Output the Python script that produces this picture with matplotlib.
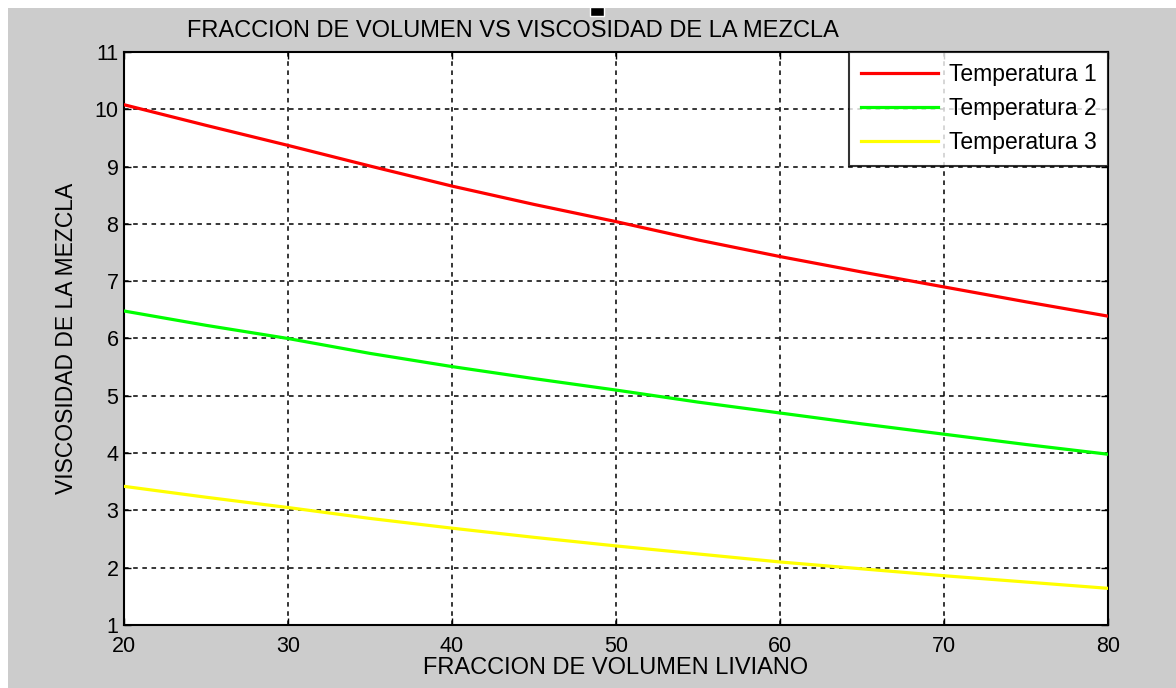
import numpy as np
import matplotlib
matplotlib.use("Agg")
import matplotlib.pyplot as plt
from matplotlib.patches import Rectangle
from matplotlib import font_manager

# Fraccion de volumen liviano
fraccion = [20, 25, 30, 35, 40, 45, 50, 55, 60, 65, 70, 75, 80]

# Viscosidad de la mezcla para cada temperatura
visc_t1 = [10.08, 9.72, 9.37, 9.01, 8.66, 8.34, 8.04, 7.72, 7.43, 7.16, 6.90, 6.64, 6.39]
visc_t2 = [6.48, 6.23, 6.00, 5.74, 5.51, 5.30, 5.10, 4.89, 4.70, 4.51, 4.33, 4.15, 3.98]
visc_t3 = [3.42, 3.23, 3.05, 2.86, 2.69, 2.53, 2.38, 2.24, 2.10, 1.98, 1.86, 1.75, 1.64]

etiquetas = ["Temperatura 1", "Temperatura 2", "Temperatura 3"]
colores = ["#ff0000", "#00ff00", "#ffff00"]

x_ticks = [20, 30, 40, 50, 60, 70, 80]
y_ticks = list(range(1, 12))

names = {f.name for f in font_manager.fontManager.ttflist}
narrow = "Liberation Sans Narrow" if "Liberation Sans Narrow" in names else "Liberation Sans"
regular = "Liberation Sans"

fig = plt.figure(figsize=(11.76, 6.88), dpi=100, facecolor="#cccccc")
ax = fig.add_axes([124/1176, 1 - 625/688, 984/1176, 573/688])

# white strips at top and left edge, little black marker on top
fig.patches.append(Rectangle((0, 1 - 8/688), 1, 8/688, transform=fig.transFigure,
                             facecolor="white", edgecolor="none", zorder=0))
fig.patches.append(Rectangle((0, 0), 8/1176, 1, transform=fig.transFigure,
                             facecolor="white", edgecolor="none", zorder=0))
fig.patches.append(Rectangle((590/1176, 1 - 16/688), 14/1176, 9/688, transform=fig.transFigure,
                             facecolor="black", edgecolor="white", linewidth=1, zorder=5))

for y, c, lab in zip([visc_t1, visc_t2, visc_t3], colores, etiquetas):
    ax.plot(fraccion, y, color=c, linewidth=2.3, label=lab, zorder=3)

ax.set_xlim(20, 80)
ax.set_ylim(1, 11)
ax.set_xticks(x_ticks)
ax.set_yticks(y_ticks)
ax.grid(True, color="black", linestyle=(0, (3, 3)), linewidth=1.1)
ax.tick_params(direction="in", length=5, width=1, top=True, right=True,
               labelsize=15.5, colors="black", pad=4)
ax.tick_params(axis="x", pad=8)
for lbl in ax.get_xticklabels() + ax.get_yticklabels():
    lbl.set_fontfamily(narrow)
for s in ax.spines.values():
    s.set_linewidth(1.5)
ax.set_facecolor("white")

ax.set_title("FRACCION DE VOLUMEN VS VISCOSIDAD DE LA MEZCLA", fontsize=17,
             family=narrow, pad=11, x=0.395)
ax.set_xlabel("FRACCION DE VOLUMEN LIVIANO", fontsize=17, family=narrow, labelpad=0)
ax.set_ylabel("VISCOSIDAD DE LA MEZCLA", fontsize=16.5, family=regular, labelpad=12)

leg = ax.legend(loc="upper right", prop={"family": regular, "size": 16.5},
                frameon=True, fancybox=False, borderaxespad=0.0, handlelength=3.4,
                handletextpad=0.45, labelspacing=0.48, borderpad=0.5)
leg.get_frame().set_edgecolor("black")
leg.get_frame().set_linewidth(1.5)
for h in leg.get_lines():
    h.set_linewidth(2.3)

fig.savefig("out.png", dpi=100, facecolor=fig.get_facecolor())
